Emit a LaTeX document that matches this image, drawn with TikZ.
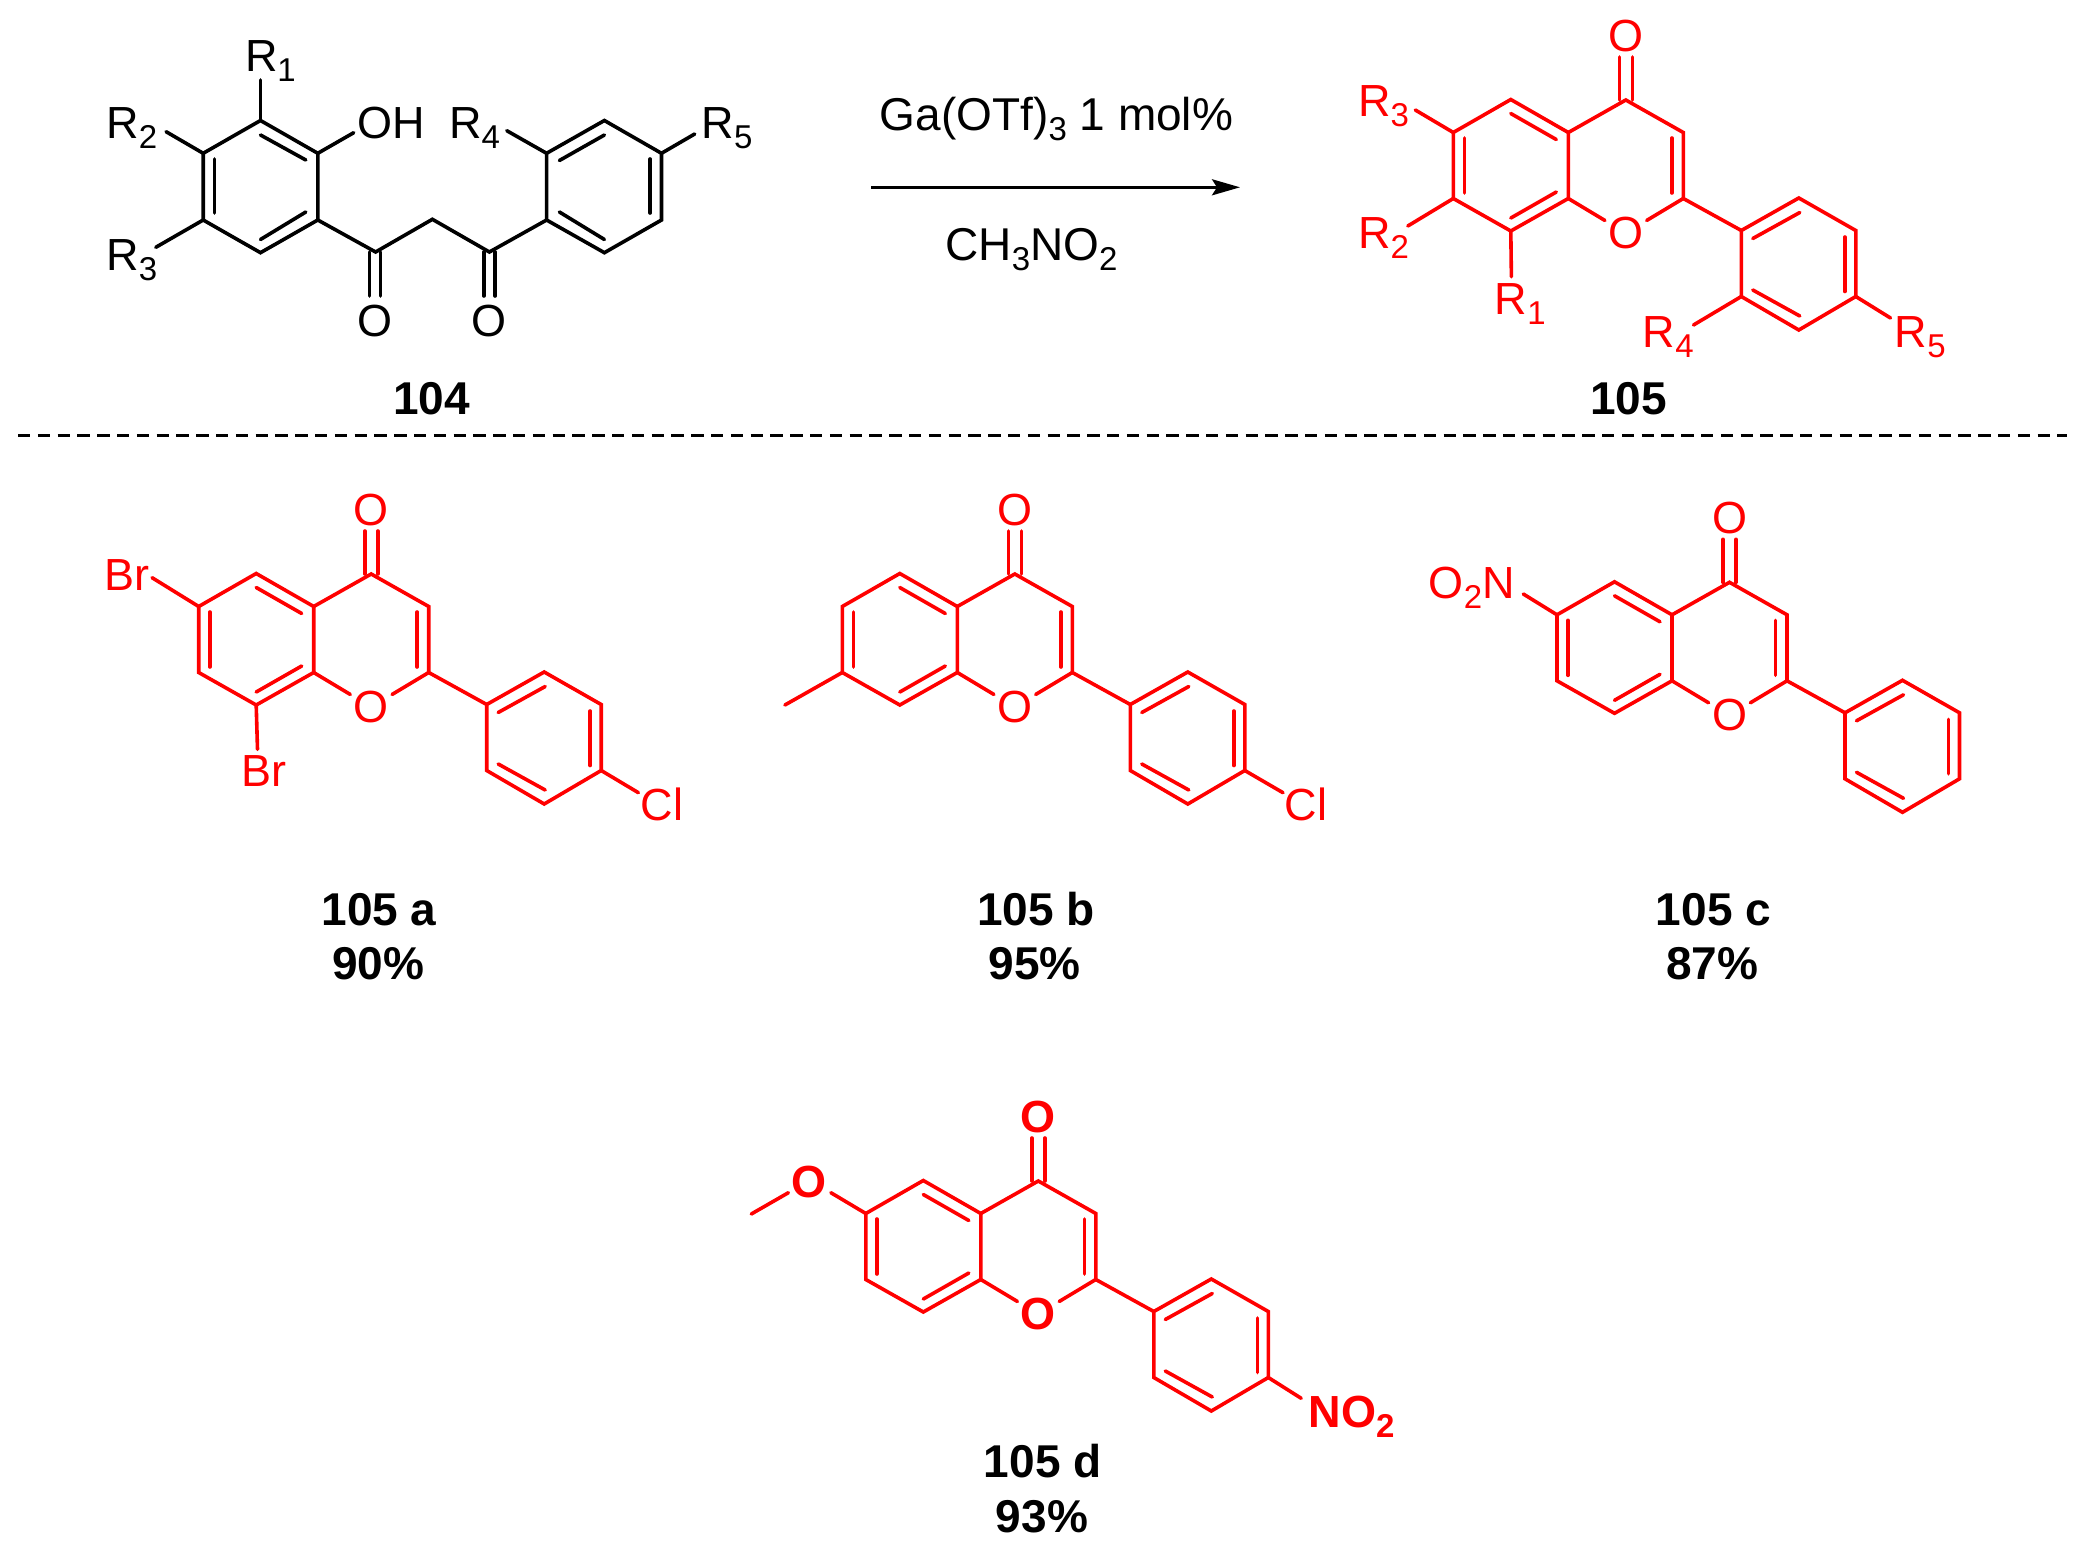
\documentclass[tikz,border=0pt]{standalone}
\usepackage{fontspec}
\setmainfont{Liberation Sans}
\usetikzlibrary{arrows.meta}
\newcommand{\atomfont}{\fontsize{22.5}{26}\selectfont}
\newcommand{\bigfont}{\fontsize{23}{27}\selectfont}
\newcommand{\lowsub}[1]{\raisebox{-5pt}{\fontsize{16.5}{18}\selectfont #1}}
\tikzset{
  bond/.style={line width=1.8pt,line join=miter,line cap=round},
  atomlab/.style={font=\atomfont,inner sep=1.5pt},
  baselab/.style={font=\atomfont,inner sep=0pt,anchor=base west},
  boldatom/.style={font=\atomfont\bfseries,inner sep=1.5pt},
  cmpd/.style={font=\bigfont\bfseries,inner sep=0pt,text=black},
  condlab/.style={font=\bigfont,inner sep=0pt,anchor=base west},
  rx/.style={line width=1.4pt,-{Stealth[length=14pt,width=8pt,inset=2.5pt]}},
  sep/.style={line width=1.3pt,dash pattern=on 6.2pt off 3.7pt}
}
% #1 prefix, #2 x, #3 y of C4, #4 style of the oxygen labels
\newcommand{\flavone}[4]{%
\begin{scope}[shift={(#2,#3)},red,text=red]
  \coordinate (#1c4) at (0,0);
  \coordinate (#1c4a) at (-57.5,32.5);
  \coordinate (#1c5) at (-115,-0.5);
  \coordinate (#1c6) at (-172.5,32.5);
  \coordinate (#1c7) at (-172.5,98.5);
  \coordinate (#1c8) at (-115,131);
  \coordinate (#1c8a) at (-57.5,98.5);
  \coordinate (#1c2) at (57.5,98.5);
  \coordinate (#1c3) at (57.5,32.5);
  \coordinate (#1ci) at (115.5,130.5);
  \coordinate (#1co) at (173,98);
  \coordinate (#1cm) at (230,130.5);
  \coordinate (#1cp) at (230,196.5);
  \coordinate (#1cn) at (173,230);
  \coordinate (#1cq) at (115.5,196.5);
  \node[#4] (#1oa) at (0,-64) {O};
  \node[#4] (#1ob) at (0,133) {O};
  \draw[bond] (#1c4a) -- (#1c5) -- (#1c6) -- (#1c7) -- (#1c8) -- (#1c8a) -- cycle;
  \draw[bond] (#1c4a) -- (#1c4) -- (#1c3) -- (#1c2) -- (#1ci);
  \draw[bond] (#1c8a) -- (#1ob);
  \draw[bond] (#1c2) -- (#1ob);
  \draw[bond] (#1ci) -- (#1co) -- (#1cm) -- (#1cp) -- (#1cn) -- (#1cq) -- cycle;
  \draw[bond] (-6.5,-43) -- (-6.5,0) (6.5,-43) -- (6.5,0);
  \draw[bond] (-115,13.5) -- (-69.5,39.5);
  \draw[bond] (-161.5,38) -- (-161.5,93);
  \draw[bond] (-115,118) -- (-69.5,92);
  \draw[bond] (46,38) -- (46,93);
  \draw[bond] (127,138.5) -- (174,112.5);
  \draw[bond] (219,137) -- (219,191.5);
  \draw[bond] (127,190) -- (174,216);
\end{scope}}
\begin{document}
\begin{tikzpicture}[x=0.5pt,y=-0.5pt]
\useasboundingbox (0,0) rectangle (2085,1553);

% ---- 104 ----
\coordinate (a1) at (260.5,120.5);
\coordinate (a2) at (317.8,153.3);
\coordinate (a3) at (317.8,220);
\coordinate (a4) at (260.5,252.7);
\coordinate (a5) at (203.2,220);
\coordinate (a6) at (203.2,153.3);
\coordinate (k1) at (375.6,252);
\coordinate (ch) at (432.4,219.3);
\coordinate (k2) at (489.4,252);
\coordinate (b1) at (546.6,220);
\coordinate (b2) at (546.6,153.3);
\coordinate (b3) at (604.4,120.5);
\coordinate (b4) at (661.5,153.3);
\coordinate (b5) at (661.5,220);
\coordinate (b6) at (604.4,252.7);
\coordinate (er1) at (260.5,80);
\coordinate (er2) at (166.1,131.7);
\coordinate (er3) at (155.8,247.3);
\coordinate (er4) at (506.8,130.7);
\coordinate (er5) at (694.7,134);
\coordinate (eoh) at (353.7,132.7);
\node[baselab] (r1) at (244.6,71.7) {R\lowsub{1}};
\node[baselab] (r2) at (106.1,138.3) {R\lowsub{2}};
\node[baselab] (r3) at (106.1,270.7) {R\lowsub{3}};
\node[baselab] (r4) at (448.8,138.3) {R\lowsub{4}};
\node[baselab] (r5) at (701.3,138.3) {R\lowsub{5}};
\node[baselab] (oh) at (357.1,138.3) {OH};
\node[atomlab] (o1) at (375.1,321) {O};
\node[atomlab] (o2) at (489.1,321) {O};
\draw[bond] (a1) -- (a2) -- (a3) -- (a4) -- (a5) -- (a6) -- cycle;
\draw[bond] (a3) -- (k1) -- (ch) -- (k2) -- (b1);
\draw[bond] (b1) -- (b2) -- (b3) -- (b4) -- (b5) -- (b6) -- cycle;
\draw[bond] (a1) -- (er1);
\draw[bond] (a6) -- (er2);
\draw[bond] (a5) -- (er3);
\draw[bond] (b2) -- (er4);
\draw[bond] (b4) -- (er5);
\draw[bond] (a2) -- (eoh);
\draw[bond] (369.4,252) -- (369.4,296) (380.5,252) -- (380.5,296);
\draw[bond] (483.8,252) -- (483.8,296) (495.2,252) -- (495.2,296);
\draw[bond] (260.5,135) -- (305.8,160);
\draw[bond] (214.6,159) -- (214.6,213);
\draw[bond] (260.5,239.5) -- (305.8,212);
\draw[bond] (559.4,160.5) -- (604.4,135);
\draw[bond] (650.1,159) -- (650.1,213);
\draw[bond] (559.4,212) -- (604.4,239.5);
\node[cmpd] (n104) at (431.4,398.5) {104};

% ---- conditions ----
\node[condlab] (cond1) at (879.5,130) {Ga(OTf)\lowsub{3} 1 mol\%};
\node[condlab] (cond2) at (945,260.7) {CH\lowsub{3}NO\lowsub{2}};
\coordinate (as) at (871,187.3);
\coordinate (ae) at (1240,187.3);
\draw[rx] (as) -- (ae);

% ---- 105 ----
\flavone{p}{1625.8}{100}{atomlab}
\begin{scope}[red,text=red]
\coordinate (pr3) at (1415.3,110);
\coordinate (pr2) at (1407.8,226);
\coordinate (pr1) at (1511.4,276.7);
\coordinate (pr4) at (1693.5,325);
\coordinate (pr5) at (1890.5,318);
\node[baselab] (pl3) at (1357.6,116.7) {R\lowsub{3}};
\node[baselab] (pl2) at (1357.6,248.3) {R\lowsub{2}};
\node[baselab] (pl1) at (1494.5,314) {R\lowsub{1}};
\node[baselab] (pl4) at (1642.4,347) {R\lowsub{4}};
\node[baselab] (pl5) at (1894.5,347) {R\lowsub{5}};
\draw[bond] (pc6) -- (pr3);
\draw[bond] (pc7) -- (pr2);
\draw[bond] (pc8) -- (pr1);
\draw[bond] (pcq) -- (pr4);
\draw[bond] (pcp) -- (pr5);
\end{scope}
\node[cmpd] (n105) at (1628.5,398.5) {105};

% ---- separator ----
\coordinate (da) at (18,435.5);
\coordinate (db) at (2066.5,435.5);
\draw[sep] (da) -- (db);

% ---- 105 a ----
\flavone{x}{371.2}{574}{atomlab}
\begin{scope}[red,text=red]
\coordinate (xe1) at (152.1,577.7);
\coordinate (xe2) at (257.5,749.3);
\coordinate (xe3) at (638.4,792.7);
\node[baselab] (xb1) at (104,590) {Br};
\node[baselab] (xb2) at (241.1,786.7) {Br};
\node[baselab] (xcl) at (640.4,820) {Cl};
\draw[bond] (xc6) -- (xe1);
\draw[bond] (xc8) -- (xe2);
\draw[bond] (xcp) -- (xe3);
\end{scope}
\node[cmpd] (na) at (379,909.5) {105 a};
\node[cmpd] (ya) at (378.2,963.5) {90\%};

% ---- 105 b ----
\flavone{y}{1014.8}{574}{atomlab}
\begin{scope}[red,text=red]
\coordinate (ye1) at (784.9,705);
\coordinate (ye3) at (1283,792.7);
\node[baselab] (ycl) at (1284.5,820) {Cl};
\draw[bond] (yc7) -- (ye1);
\draw[bond] (ycp) -- (ye3);
\end{scope}
\node[cmpd] (nb) at (1036,909.5) {105 b};
\node[cmpd] (yb) at (1034.7,963.5) {95\%};

% ---- 105 c ----
\flavone{z}{1729.5}{582.3}{atomlab}
\begin{scope}[red,text=red]
\coordinate (ze1) at (1523.3,594);
\node[baselab] (zno) at (1428.4,598.3) {O\lowsub{2}N};
\draw[bond] (zc6) -- (ze1);
\end{scope}
\node[cmpd] (nc) at (1713.4,909.5) {105 c};
\node[cmpd] (yc) at (1712.3,963.5) {87\%};

% ---- 105 d ----
\flavone{w}{1038.3}{1181}{boldatom}
\begin{scope}[red,text=red]
\coordinate (we1) at (830.9,1192.7);
\coordinate (we2) at (788.4,1192.7);
\coordinate (we3) at (751.3,1214);
\coordinate (we4) at (1301.2,1398.3);
\node[boldatom] (wo) at (808.5,1181.7) {O};
\node[baselab,font=\atomfont\bfseries] (wno) at (1308.2,1427) {NO\lowsub{2}};
\draw[bond] (wc6) -- (we1);
\draw[bond] (we2) -- (we3);
\draw[bond] (wcp) -- (we4);
\end{scope}
\node[cmpd] (nd) at (1042.8,1461.5) {105 d};
\node[cmpd] (yd) at (1042,1516.5) {93\%};
\end{tikzpicture}
\end{document}
